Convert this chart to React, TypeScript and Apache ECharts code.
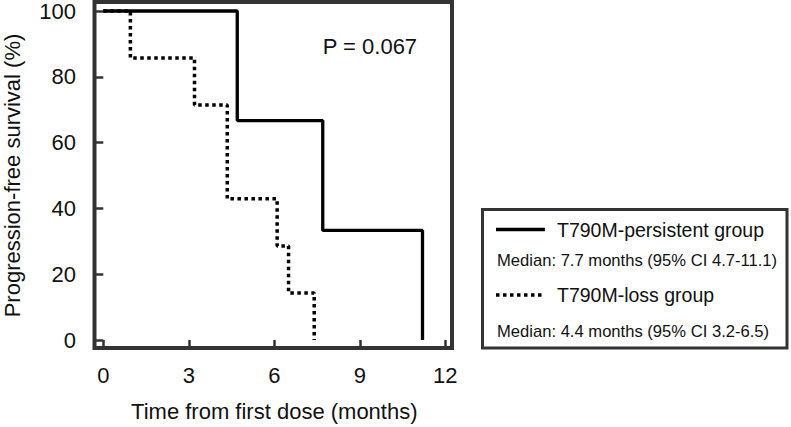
import React, { useEffect, useRef } from "react";
import * as echarts from "echarts";

const persistentTimes = [0, 4.7, 7.7, 11.2];
const persistentSurvival = [100, 66.7, 33.3, 0];
const lossTimes = [0, 0.95, 3.2, 4.35, 6.1, 6.5, 7.4];
const lossSurvival = [100, 85.7, 71.4, 42.9, 28.6, 14.3, 0];
const xTicks = [0, 3, 6, 9, 12];
const yTicks = [0, 20, 40, 60, 80, 100];
const pValueText = "P = 0.067";
const legendNames = ["T790M-persistent group", "T790M-loss group"];
const legendMedians = [
  "Median: 7.7 months (95% CI 4.7-11.1)",
  "Median: 4.4 months (95% CI 3.2-6.5)",
];

const FONT = "'Liberation Sans', Arial, Helvetica, sans-serif";
const BORDER = "#333333";

export default function App() {
  const ref = useRef<HTMLDivElement>(null);
  useEffect(() => {
    if (!ref.current) return;
    const chart = echarts.init(ref.current, null, { renderer: "svg" });
    const pair = (xs: number[], ys: number[]) => xs.map((x, i) => [x, ys[i]]);
    chart.setOption({
      animation: false,
      backgroundColor: "#ffffff",
      grid: { left: 102.3, top: 10.3, right: 345.7, bottom: 83.7, containLabel: false },
      xAxis: {
        type: "value",
        min: xTicks[0],
        max: xTicks[xTicks.length - 1],
        interval: 3,
        offset: 8,
        axisLine: { show: false },
        axisTick: { show: true, length: 7, lineStyle: { color: BORDER, width: 2.5 } },
        splitLine: { show: false },
        axisLabel: { margin: 16, fontSize: 22, color: "#111", fontFamily: FONT },
        name: "Time from first dose (months)",
        nameLocation: "middle",
        nameGap: 52,
        nameTextStyle: { fontSize: 22, color: "#111", fontFamily: FONT },
      },
      yAxis: {
        type: "value",
        min: yTicks[0],
        max: yTicks[yTicks.length - 1],
        interval: 20,
        offset: 8.3,
        axisLine: { show: false },
        axisTick: { show: true, length: 8, lineStyle: { color: BORDER, width: 2.5 } },
        splitLine: { show: false },
        axisLabel: { margin: 19, fontSize: 22, color: "#111", fontFamily: FONT },
        name: "Progression-free survival (%)",
        nameLocation: "middle",
        nameGap: 72,
        nameTextStyle: { fontSize: 22, color: "#111", fontFamily: FONT },
      },
      series: [
        {
          name: legendNames[1],
          type: "line",
          step: "end",
          data: pair(lossTimes, lossSurvival),
          showSymbol: false,
          symbol: "none",
          clip: false,
          lineStyle: { color: "#000", width: 3.5, type: [3.5, 3.5], cap: "butt" },
          z: 2,
        },
        {
          name: legendNames[0],
          type: "line",
          step: "end",
          data: pair(persistentTimes, persistentSurvival),
          showSymbol: false,
          symbol: "none",
          clip: false,
          lineStyle: { color: "#000", width: 3.3 },
          z: 3,
        },
      ],
      graphic: [
        {
          type: "rect",
          shape: { x: 94.5, y: 2, width: 357.5, height: 346 },
          style: { fill: "none", stroke: BORDER, lineWidth: 4 },
          z: 1,
        },
        {
          type: "text",
          x: 322.7,
          y: 46.7,
          style: { text: pValueText, fontSize: 22, fill: "#111", fontFamily: FONT, verticalAlign: "middle" },
        },
        {
          type: "rect",
          shape: { x: 482.5, y: 209.5, width: 304.5, height: 138.5 },
          style: { fill: "#fff", stroke: BORDER, lineWidth: 3 },
        },
        {
          type: "line",
          shape: { x1: 496, y1: 229.5, x2: 545, y2: 229.5 },
          style: { stroke: "#000", lineWidth: 3.3 },
        },
        {
          type: "text",
          x: 557,
          y: 229.5,
          style: { text: legendNames[0], fontSize: 19.5, fill: "#111", fontFamily: FONT, verticalAlign: "middle" },
        },
        {
          type: "text",
          x: 497,
          y: 260,
          style: { text: legendMedians[0], fontSize: 16.6, fill: "#111", fontFamily: FONT, verticalAlign: "middle" },
        },
        {
          type: "line",
          shape: { x1: 496, y1: 295, x2: 543, y2: 295 },
          style: { stroke: "#000", lineWidth: 3.5, lineDash: [3.5, 3.5], lineCap: "butt" },
        },
        {
          type: "text",
          x: 557,
          y: 295,
          style: { text: legendNames[1], fontSize: 19.5, fill: "#111", fontFamily: FONT, verticalAlign: "middle" },
        },
        {
          type: "text",
          x: 497,
          y: 331.5,
          style: { text: legendMedians[1], fontSize: 16.6, fill: "#111", fontFamily: FONT, verticalAlign: "middle" },
        },
      ],
    });
    return () => chart.dispose();
  }, []);
  return (
    <div
      ref={ref}
      style={{ position: "fixed", left: 0, top: 0, width: 791, height: 427, background: "#fff" }}
    />
  );
}
